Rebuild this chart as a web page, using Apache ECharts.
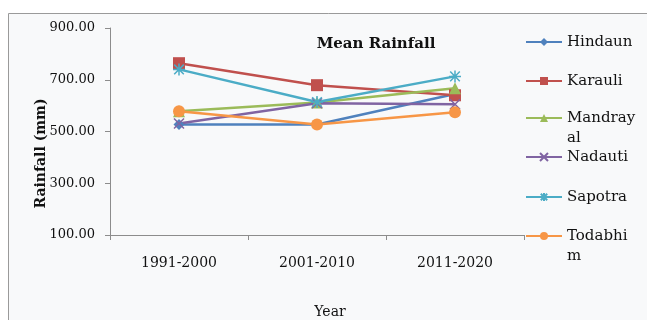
<!DOCTYPE html>
<html>
<head>
<meta charset="utf-8">
<script src="https://cdn.jsdelivr.net/npm/echarts@6/dist/echarts.min.js"></script>
<style>
  html, body { margin: 0; padding: 0; background: #fff; }
  #chart { width: 647px; height: 320px; }
</style>
</head>
<body>
<div id="chart"></div>
<script>
var periods = ['1991-2000', '2001-2010', '2011-2020'];
var hindaun = [527, 527, 645];
var karauli = [764, 679, 640];
var mandrayal = [578, 612, 667];
var nadauti = [531, 609, 605];
var sapotra = [740, 614, 713];
var todabhim = [578, 527, 574];
var yTicks = { min: 100, max: 900, step: 200 };

var serif = 'DejaVu Serif';
var xPath = 'path://M0,0L10,10M10,0L0,10';
var starPath = 'path://M0,5L10,5M5,0L5,10M1,1L9,9M9,1L1,9';

function line(name, data, color, symbol, size) {
	return {
		name: name,
		type: 'line',
		data: data,
		symbol: symbol,
		symbolSize: size,
		lineStyle: { color: color, width: 2.5 },
		itemStyle: { color: color, borderColor: color, borderWidth: symbol.indexOf('path') === 0 ? 1.5 : 0 },
		emphasis: { disabled: true }
	};
}

// one legend per entry, so the long names can wrap under their own marker
var legendRows = [
	{ name: 'Hindaun', y: 42, text: 'Hindaun' },
	{ name: 'Karauli', y: 81, text: 'Karauli' },
	{ name: 'Mandrayal', y: 118, text: 'Mandray\nal' },
	{ name: 'Nadauti', y: 157, text: 'Nadauti' },
	{ name: 'Sapotra', y: 197, text: 'Sapotra' },
	{ name: 'Todabhim', y: 236, text: 'Todabhi\nm' }
];
var lineH = 20;

function legendFor(row) {
	var twoLines = row.text.indexOf('\n') >= 0;
	// a blank first line keeps the marker level with the first word line
	var label = twoLines ? ' \n' + row.text : row.text;
	return {
		orient: 'vertical',
		left: 525,
		top: row.y - (twoLines ? lineH * 1.5 : lineH / 2),
		padding: 0,
		itemWidth: 36,
		itemHeight: 10,
		data: [row.name],
		formatter: function () { return label; },
		textStyle: { fontFamily: serif, fontSize: 15, color: '#111', lineHeight: lineH }
	};
}

var myChart = echarts.init(document.getElementById('chart'), null, { renderer: 'canvas' });

var option = {
	animation: false,
	backgroundColor: '#ffffff',
	graphic: [{
		type: 'rect',
		shape: { x: 8.5, y: 13.5, width: 660, height: 320 },
		style: { fill: '#f8f9fa', stroke: '#9a9a9a', lineWidth: 1 },
		z: -10
	}],
	title: {
		text: 'Mean Rainfall',
		left: 371,
		top: 32,
		textAlign: 'center',
		textStyle: { fontFamily: serif, fontSize: 15, fontWeight: 'bold', color: '#111' }
	},
	legend: legendRows.map(legendFor),
	grid: { left: 110, right: 123, top: 28, bottom: 85, outerBoundsMode: 'none', containLabel: false },
	xAxis: {
		type: 'category',
		data: periods,
		boundaryGap: true,
		name: 'Year',
		nameLocation: 'middle',
		nameGap: 70,
		nameMoveOverlap: false,
		nameTextStyle: { fontFamily: serif, fontSize: 14, color: '#111', padding: [0, 0, 0, 26] },
		axisLine: { lineStyle: { color: '#8c8c8c', width: 1 } },
		axisTick: { show: true, alignWithLabel: false, length: 5, lineStyle: { color: '#8c8c8c' } },
		axisLabel: { fontFamily: serif, fontSize: 14, color: '#111', margin: 21 }
	},
	yAxis: {
		type: 'value',
		min: yTicks.min,
		max: yTicks.max,
		interval: yTicks.step,
		name: 'Rainfall (mm)',
		nameLocation: 'middle',
		nameGap: 62,
		nameMoveOverlap: false,
		nameTextStyle: { fontFamily: serif, fontSize: 14, fontWeight: 'bold', color: '#111', padding: [0, 44, 0, 0] },
		axisLine: { show: true, lineStyle: { color: '#8c8c8c', width: 1 } },
		axisTick: { show: true, length: 5, lineStyle: { color: '#8c8c8c' } },
		splitLine: { show: false },
		axisLabel: {
			fontFamily: serif, fontSize: 13, color: '#111', margin: 15,
			formatter: function (v) { return v.toFixed(2); }
		}
	},
	series: [
		line('Hindaun', hindaun, '#4F81BD', 'diamond', 11),
		line('Karauli', karauli, '#C0504D', 'rect', 12),
		line('Mandrayal', mandrayal, '#9BBB59', 'triangle', 12),
		line('Nadauti', nadauti, '#8064A2', xPath, 10),
		line('Sapotra', sapotra, '#4BACC6', starPath, 12),
		line('Todabhim', todabhim, '#F79646', 'circle', 12)
	]
};

myChart.setOption(option);
</script>
</body>
</html>
